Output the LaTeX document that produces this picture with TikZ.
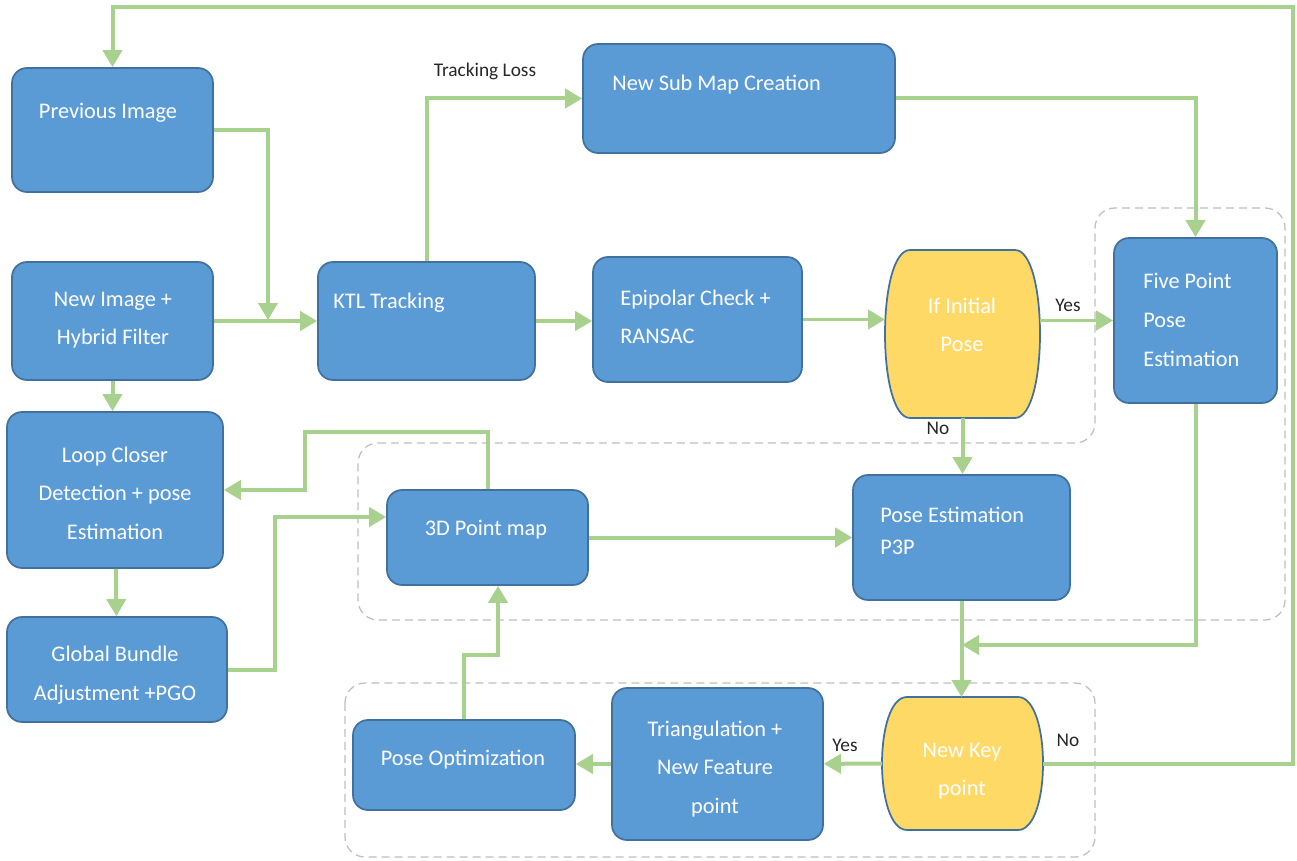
\documentclass[tikz,border=0pt]{standalone}
\usepackage{fontspec}
\setmainfont{Carlito}
\usetikzlibrary{arrows.meta}

\definecolor{boxblue}{HTML}{5B9BD5}
\definecolor{boxline}{HTML}{41719C}
\definecolor{keyyellow}{HTML}{FFD966}
\definecolor{flowgreen}{HTML}{A9D18E}
\definecolor{dashgray}{HTML}{BFBFBF}

\tikzset{
  box/.style={draw=boxline, fill=boxblue, line width=0.035cm, rounded corners=0.3cm},
  decision/.style={draw=boxline, fill=keyyellow, line width=0.035cm},
  txt/.style={text=white, inner sep=0pt, font=\fontsize{12.7}{22}\selectfont},
  lbl/.style={text=black!85, inner sep=0pt, font=\fontsize{11}{13}\selectfont},
  flow/.style={draw=flowgreen, line width=0.08cm, -{Triangle[length=0.34cm,width=0.38cm]}},
  group/.style={draw=dashgray, line width=0.025cm, dash pattern=on 0.16cm off 0.1cm, rounded corners=0.4cm}
}

\begin{document}
\begin{tikzpicture}[x=0.02cm, y=-0.02cm]
\useasboundingbox (0,0) rectangle (1297,861);

% Dashed groups
\draw[group] (358,443) -- (1095,443) -- (1095,208) -- (1285,208) -- (1285,620) -- (358,620) -- cycle;
\draw[group] (345,683) rectangle (1095,857);

% Left column
\node[box, minimum width=4.02cm, minimum height=2.48cm] (prev) at (112.5,130) {};
\node[box, minimum width=4.02cm, minimum height=2.36cm] (newimg) at (112.5,321) {};
\node[box, minimum width=4.32cm, minimum height=3.12cm] (loop) at (115,490) {};
\node[box, minimum width=4.40cm, minimum height=2.10cm] (glob) at (117,669.5) {};

% Tracking row
\node[box, minimum width=4.34cm, minimum height=2.36cm] (ktl) at (426.5,321) {};
\node[box, minimum width=6.24cm, minimum height=2.18cm] (submap) at (739,98.5) {};
\node[box, minimum width=4.18cm, minimum height=2.50cm] (epi) at (697.5,319.5) {};
\node[minimum width=3.10cm, minimum height=3.36cm, inner sep=0pt, outer sep=0pt] (ini) at (962.5,334) {};
\node[box, minimum width=3.26cm, minimum height=3.30cm] (five) at (1195.5,320.5) {};

% Mapping part
\node[box, minimum width=4.02cm, minimum height=1.90cm] (map) at (487.5,537.5) {};
\node[box, minimum width=4.34cm, minimum height=2.50cm] (p3p) at (961.5,537.5) {};
\node[minimum width=3.22cm, minimum height=2.66cm, inner sep=0pt, outer sep=0pt] (key) at (962.5,763.5) {};
\node[box, minimum width=4.22cm, minimum height=3.04cm] (tri) at (717.5,764) {};
\node[box, minimum width=4.44cm, minimum height=1.80cm] (popt) at (464,765) {};

% Decision outlines with bulging sides
\foreach \n in {ini,key}{
  \filldraw[decision] ([xshift=0.5cm]\n.north west) -- ([xshift=-0.5cm]\n.north east)
    .. controls ([xshift=0.167cm]\n.north east) and ([xshift=0.167cm]\n.south east) .. ([xshift=-0.5cm]\n.south east)
    -- ([xshift=0.5cm]\n.south west)
    .. controls ([xshift=-0.167cm]\n.south west) and ([xshift=-0.167cm]\n.north west) .. cycle;
}

% Box texts
\node[txt] (prev-t) at (108,113) {Previous Image};
\node[txt, align=center] (newimg-t) at (113,320) {New Image +\\Hybrid Filter};
\node[txt, align=center] (loop-t) at (115,493) {Loop Closer\\Detection + pose\\Estimation};
\node[txt, align=center] (glob-t) at (115,675) {Global Bundle\\Adjustment +PGO};
\node[txt, anchor=west] (ktl-t) at (333,303) {KTL Tracking};
\node[txt, anchor=west] (submap-t) at (612,85) {New Sub Map Creation};
\node[txt, anchor=west, align=left] (epi-t) at (620,317) {Epipolar Check +\\RANSAC};
\node[txt, align=center] (ini-t) at (962,325) {If Initial\\Pose};
\node[txt, anchor=west, align=left] (five-t) at (1143,320) {Five Point\\Pose\\Estimation};
\node[txt] (map-t) at (486,530) {3D Point map};
\node[txt, anchor=west, align=left, font=\fontsize{12.7}{18}\selectfont] (p3p-t) at (880,531) {Pose Estimation\\P3P};
\node[txt] (popt-t) at (463,760) {Pose Optimization};
\node[txt, align=center] (tri-t) at (715,769) {Triangulation +\\New Feature\\point};
\node[txt, align=center] (key-t) at (962,771) {New Key\\point};

% Helper points for elbows
\coordinate (top) at (1293,7);
\coordinate (merge) at (268,320);
\coordinate (back) at (962,645);
\coordinate (step) at (498,655);
\coordinate (up) at (305,432);
\coordinate (ba) at (275,517);

% Connectors
\draw[flow] (key.east) -| (top) -| (prev.north);
\draw[flow] (prev.east) -| (merge);
\draw[flow] (newimg) -- (ktl);
\draw[flow] (ktl.north) |- (submap.west);
\draw[flow] (ktl.east) -- (ktl.east -| epi.west);
\draw[flow] (epi.east) -- (epi.east -| ini.west);
\draw[flow] (five.west -| ini.east) -- (five.west);
\draw[flow] (submap.east) -| (five.north);
\draw[flow] (ini.south) -- (ini.south |- p3p.north);
\draw[flow] (map) -- (p3p);
\draw[flow] (five.south) |- (back);
\draw[flow] (p3p.south) -- (p3p.south |- key.north);
\draw[flow] (key) -- (tri);
\draw[flow] (tri.west) -- (tri.west -| popt.east);
\draw[flow] (popt.north) |- (step) -- (step |- map.south);
\draw[flow] (map.north) |- (up) |- (loop.east);
\draw[flow] (glob.east) -| (ba) -- (ba -| map.west);
\draw[flow] (newimg.south) -- (newimg.south |- loop.north);
\draw[flow] (loop) -- (glob);

% Connector labels
\node[lbl] (loss) at (485,71) {Tracking Loss};
\node[lbl] (yes1) at (1068,305) {Yes};
\node[lbl] (no1) at (938,428) {No};
\node[lbl] (yes2) at (845,745) {Yes};
\node[lbl] (no2) at (1068,740) {No};
\end{tikzpicture}
\end{document}
